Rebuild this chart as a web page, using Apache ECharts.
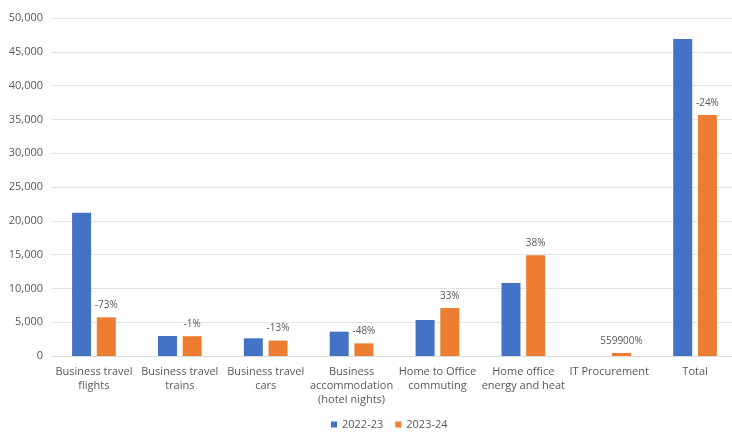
<!DOCTYPE html>
<html>
<head>
<meta charset="utf-8">
<script src="https://cdn.jsdelivr.net/npm/echarts@6/dist/echarts.min.js"></script>
<style>
  html, body { margin: 0; padding: 0; background: #ffffff; }
  #chart { width: 732px; height: 432px; }
</style>
</head>
<body>
<div id="chart"></div>
<script>
// Emission sources compared across two reporting years
const categories = [
  'Business travel\nflights',
  'Business travel\ntrains',
  'Business travel\ncars',
  'Business\naccommodation\n(hotel nights)',
  'Home to Office\ncommuting',
  'Home office\nenergy and heat',
  'IT Procurement',
  'Total'
];
const values2022 = [21200, 2960, 2620, 3600, 5330, 10800, 0.08, 46900];
const values2023 = [5720, 2930, 2280, 1870, 7090, 14900, 448, 35650];
// Year-on-year change shown above the 2023-24 bars
const changeLabels = ['-73%', '-1%', '-13%', '-48%', '33%', '38%', '559900%', '-24%'];
const yTicks = { min: 0, max: 50000, interval: 5000 };

const textColor = '#595959';
const fontFamily = '"Open Sans", "Noto Sans", sans-serif';

const chart = echarts.init(document.getElementById('chart'));
chart.setOption({
  animation: false,
  textStyle: { fontFamily: fontFamily },
  grid: { left: 51, right: -6, top: 18, bottom: 76, containLabel: false, outerBoundsMode: 'none' },
  legend: {
    bottom: -3,
    left: 326,
    icon: 'rect',
    itemWidth: 6,
    itemHeight: 6,
    itemGap: 12,
    textStyle: { color: textColor, fontSize: 11, fontFamily: fontFamily },
    data: ['2022-23', '2023-24']
  },
  xAxis: {
    type: 'category',
    data: categories,
    axisLine: { show: true, lineStyle: { color: '#dcdcdc', width: 1 } },
    axisTick: { show: false },
    axisLabel: {
      color: textColor,
      fontSize: 11,
      lineHeight: 14,
      margin: 9,
      interval: 0,
      fontFamily: fontFamily
    }
  },
  yAxis: {
    type: 'value',
    min: yTicks.min,
    max: yTicks.max,
    interval: yTicks.interval,
    axisLine: { show: false },
    axisTick: { show: false },
    splitLine: { lineStyle: { color: '#e3e3e3', width: 1 } },
    axisLabel: {
      color: textColor,
      fontSize: 11,
      margin: 8,
      fontFamily: fontFamily,
      formatter: v => v.toLocaleString('en-US')
    }
  },
  series: [
    {
      name: '2022-23',
      type: 'bar',
      data: values2022,
      barWidth: 19,
      barGap: '30%',
      itemStyle: { color: '#4472C4' }
    },
    {
      name: '2023-24',
      type: 'bar',
      data: values2023,
      barWidth: 19,
      itemStyle: { color: '#ED7D31' },
      label: {
        show: true,
        position: 'top',
        distance: 7,
        color: textColor,
        fontSize: 10,
        fontFamily: fontFamily,
        formatter: p => changeLabels[p.dataIndex]
      }
    }
  ]
});
</script>
</body>
</html>
